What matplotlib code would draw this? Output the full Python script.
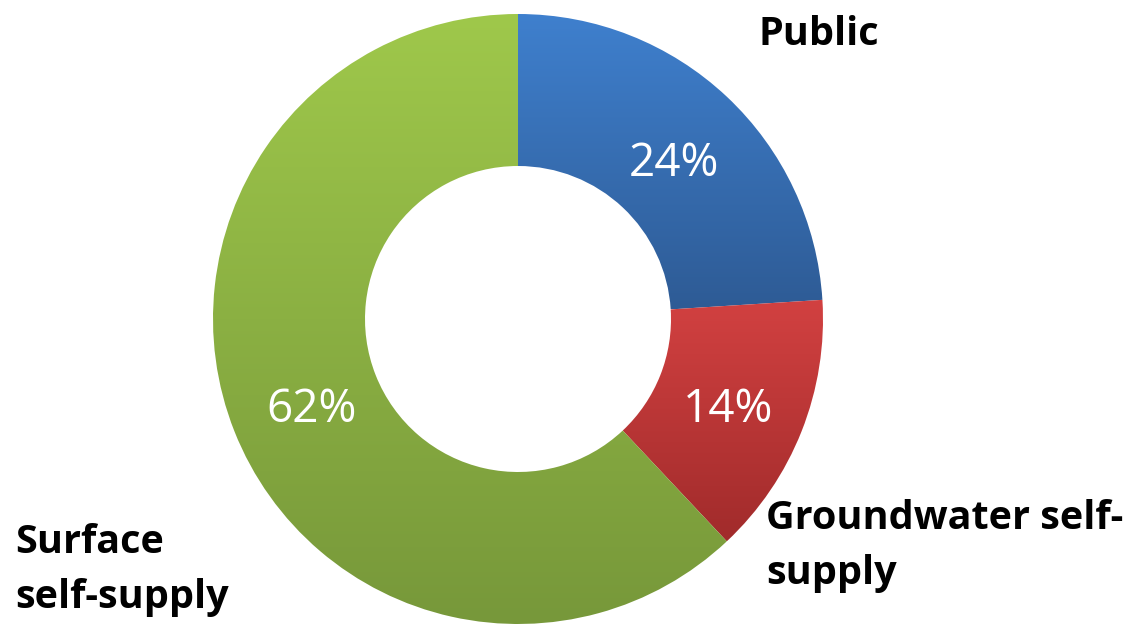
import matplotlib.pyplot as plt
import numpy as np
from matplotlib.colors import to_rgb

# water use share by source
labels = ['Public', 'Groundwater self-\nsupply', 'Surface\nself-supply']
shares = [24, 14, 62]
top_colors = ['#3F80CE', '#D24141', '#9FC84B']
bottom_colors = ['#2E5B95', '#A12B2B', '#77983A']

fig = plt.figure(figsize=(11.34, 6.24), dpi=100)
ax = fig.add_axes([0, 0, 1, 1])

wedges, _, pcts = ax.pie(shares, center=(518, 305), radius=305,
                         startangle=90, counterclock=False,
                         autopct='%d%%', pctdistance=0.735,
                         wedgeprops=dict(width=152, linewidth=0),
                         textprops=dict(color='white', fontsize=33,
                                        family='Open Sans'))
# nudge the percentages down a little (digits sit high with va=center)
for p in pcts:
    x, y = p.get_position()
    p.set_position((x + 2, y - 8))

# vertical gradient inside every wedge
for w, c0, c1 in zip(wedges, top_colors, bottom_colors):
    ext = w.get_path().get_extents()
    t = np.linspace(0, 1, 256)[:, None, None]
    grad = (1 - t) * np.array(to_rgb(c0)) + t * np.array(to_rgb(c1))
    im = ax.imshow(grad, extent=(ext.x0, ext.x1, ext.y0, ext.y1),
                   origin='upper', aspect='auto', zorder=1.5)
    im.set_clip_path(w)
    w.set_facecolor('none')

ax.set_xlim(0, 1134)
ax.set_ylim(0, 624)
ax.set_aspect('equal')
ax.axis('off')

lab_style = dict(fontsize=28.5, fontweight='bold', family='Open Sans',
                 color='black', va='top', ha='left', linespacing=1.53)
ax.text(759, 624 - 15, labels[0], **lab_style)
ax.text(766, 624 - 499, labels[1], **lab_style)
ax.text(15, 624 - 523, labels[2], **lab_style)

fig.savefig('out.png', dpi=100)
